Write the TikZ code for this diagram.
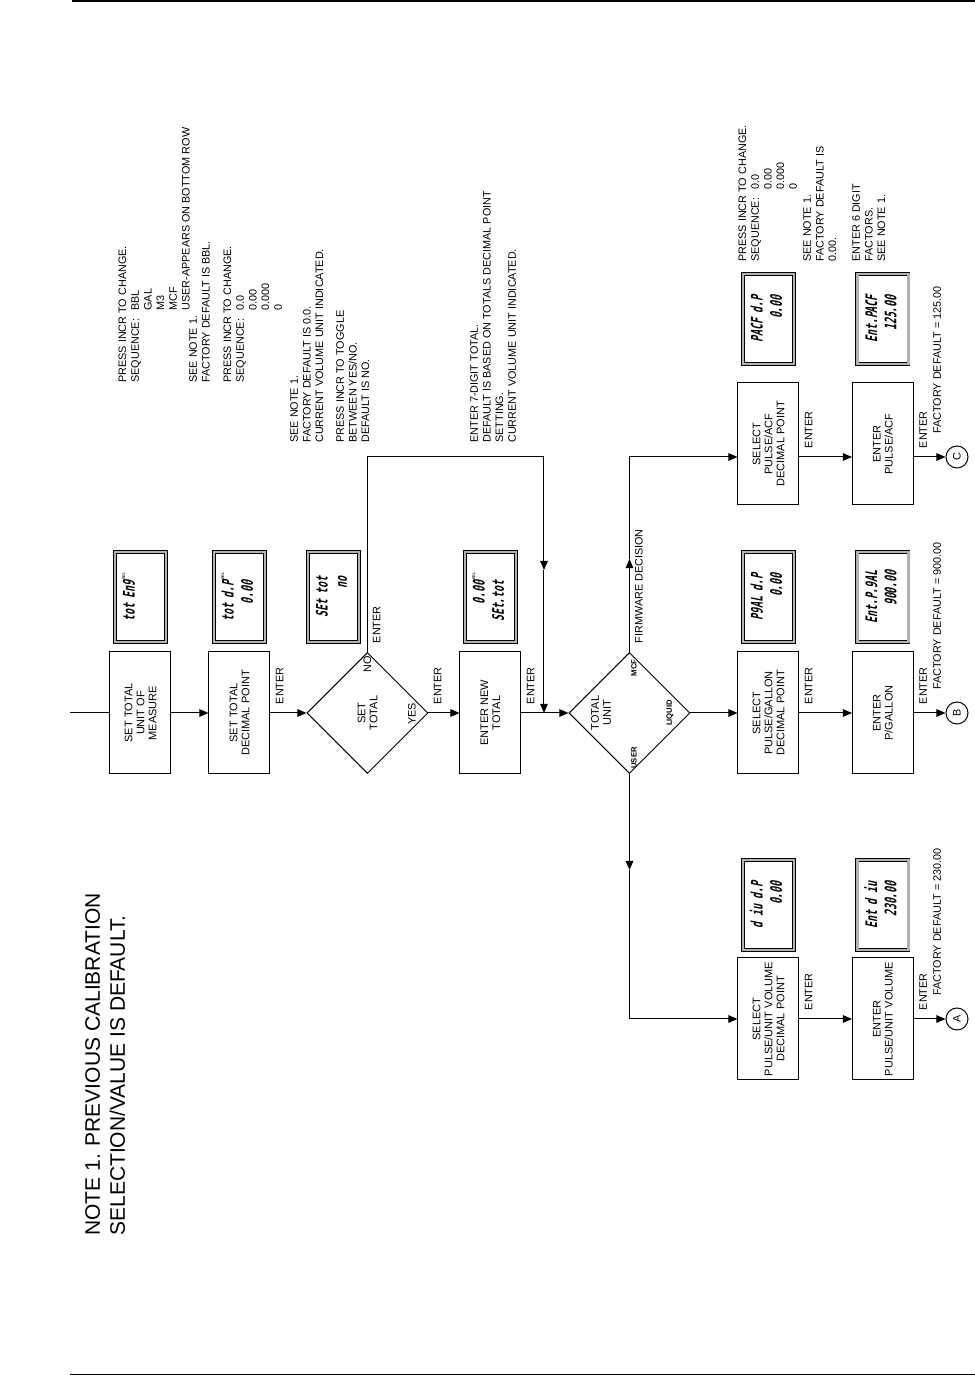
\documentclass[tikz,border=0pt]{standalone}
\usepackage{fontspec}
\setmainfont{Liberation Sans}
\newfontfamily\lcdfont{DejaVu Sans Mono}[FakeStretch=0.62,FakeSlant=0.2]
\usetikzlibrary{shapes.geometric,arrows.meta}

\newcommand{\bblunit}{\raisebox{1.1ex}{\rmfamily\mdseries\fontsize{2.4}{2.4}\selectfont\,BBL}}
\newcommand{\lcd}[2]{\begin{tabular}{@{}l@{}}#1\\#2\end{tabular}}

\begin{document}
\begin{tikzpicture}[x=0.6pt, y=0.6pt, rotate=90, transform shape,
    node distance=69.6pt,
    >={Triangle[length=5.5pt, width=4.6pt]},
    every node/.style={font=\fontsize{6.5}{7.6}\selectfont},
    box/.style={draw, rectangle, line width=0.6pt, minimum width=73.2pt,
      minimum height=36.6pt, inner sep=1pt, align=center,
      font=\fontsize{6.6}{7.2}\selectfont},
    decision/.style={draw, diamond, line width=0.6pt, minimum width=72.6pt,
      minimum height=72.6pt, inner sep=0pt, align=center,
      font=\fontsize{6.6}{7.2}\selectfont},
    display/.style={draw, double=black!30, double distance=1.4pt,
      line width=0.45pt, minimum width=54.1pt, minimum height=30.7pt,
      inner sep=0pt, font=\lcdfont\bfseries\fontsize{9.5}{11.5}\selectfont},
    connector/.style={draw, circle, line width=0.6pt, minimum size=13.2pt,
      inner sep=0pt},
    line/.style={draw, line width=0.6pt},
    flow/.style={line, ->},
    enter/.style={anchor=north west, inner xsep=5pt, inner ysep=3pt},
    note/.style={anchor=north west, inner sep=0pt, align=left},
    branch/.style={inner sep=0pt, font=\bfseries\fontsize{4.6}{5}\selectfont}]

    \useasboundingbox (0,0) rectangle (1375,975);

    % Page rules
    \draw[line width=1.8pt] (1374,903) -- (1374,0);
    \draw[line width=0.6pt] (1,905) -- (1,0);

    % Note
    \node[note, font=\fontsize{12.6}{15}\selectfont] (notehead) at (139,890)
      {NOTE 1. PREVIOUS CALIBRATION\\SELECTION/VALUE IS DEFAULT.};

    % Main line
    \node[box] (setunit) at (662,834.5) {SET TOTAL\\UNIT OF\\MEASURE};
    \node[box] (setdp) at (662,735.5) {SET TOTAL\\DECIMAL POINT};
    \node[decision] (settot) at (662,607.5) {SET\\TOTAL};
    \node[box] (newtot) at (662,484.5) {ENTER NEW\\TOTAL};
    \node[decision] (unit) at (662,345.5) {};
    \node[align=center, font=\fontsize{6.6}{7.2}\selectfont] (unitlbl) at (662,374) {TOTAL\\UNIT};

    % Branches
    \node[box] (selacf) at (931,206.5) {SELECT\\PULSE/ACF\\DECIMAL POINT};
    \node[box] (entacf) at (931,92) {ENTER\\PULSE/ACF};
    \node[box] (selgal) at (662,206.5) {SELECT\\PULSE/GALLON\\DECIMAL POINT};
    \node[box] (entgal) at (662,92) {ENTER\\P/GALLON};
    \node[box] (seluv) at (356,206.5) {SELECT\\PULSE/UNIT VOLUME\\DECIMAL POINT};
    \node[box] (entuv) at (356,92) {ENTER\\PULSE/UNIT VOLUME};
    \node[connector] (ptc) at (918,18) {C};
    \node[connector] (ptb) at (662,18) {B};
    \node[connector] (pta) at (356,18) {A};

    % Displays
    \node[display, right of=setunit] (dunit) {\lcd{tot En9\bblunit}{\mbox{}}};
    \node[display, right of=setdp] (ddp) {\lcd{tot d.P\bblunit}{\hfill 0.00\phantom{\bblunit}}};
    \node[display] (dtog) at (778,641.5) {\lcd{SEt tot}{\hfill no}};
    \node[display, right of=newtot] (dnew) {\lcd{\hfill 0.00\bblunit}{SEt.tot\phantom{\bblunit}}};
    \node[display, right of=selacf, node distance=75pt] (dacf) {\lcd{PACF d.P}{\hfill 0.00}};
    \node[display, right of=entacf, node distance=75pt] (dentacf) {\lcd{Ent.PACF}{\hfill 125.00}};
    \node[display, right of=selgal] (dgal) {\lcd{P9AL d.P}{\hfill 0.00}};
    \node[display, right of=entgal] (dentgal) {\lcd{Ent.P.9AL}{\hfill 900.00}};
    \node[display, right of=seluv, node distance=68.4pt] (duv) {\lcd{d iu d.P}{\hfill 0.00}};
    \node[display, right of=entuv, node distance=68.4pt] (dentuv) {\lcd{Ent d iu}{\hfill 230.00}};

    % Notes
    \node[note] (unitnote) at (992,858) {\begin{tabular}{@{}l@{\hspace{5pt}}l@{}}
        \multicolumn{2}{@{}l@{}}{PRESS INCR TO CHANGE.}\\
        SEQUENCE: & BBL\\ & GAL\\ & M3\\ & MCF\\ & USER-APPEARS ON BOTTOM ROW
      \end{tabular}};
    \node[note] (bblnote) at (992,786) {SEE NOTE 1.\\FACTORY DEFAULT IS BBL.};
    \node[note] (dpnote) at (992,753) {\begin{tabular}{@{}l@{\hspace{5pt}}l@{}}
        \multicolumn{2}{@{}l@{}}{PRESS INCR TO CHANGE.}\\
        SEQUENCE: & 0.0\\ & 0.00\\ & 0.000\\ & 0
      \end{tabular}};
    \node[note] (totnote) at (932,685) {SEE NOTE 1.\\FACTORY DEFAULT IS 0.0.\\CURRENT VOLUME UNIT INDICATED.};
    \node[note] (yesnonote) at (932,639) {PRESS INCR TO TOGGLE\\BETWEEN YES/NO.\\DEFAULT IS NO.};
    \node[note] (newnote) at (932,505) {ENTER 7-DIGIT TOTAL.\\DEFAULT IS BASED ON TOTALS DECIMAL POINT\\SETTING.\\CURRENT VOLUME UNIT INDICATED.};
    \node[note] (acfdpnote) at (1113,238) {\begin{tabular}{@{}l@{\hspace{5pt}}l@{}}
        \multicolumn{2}{@{}l@{}}{PRESS INCR TO CHANGE.}\\
        SEQUENCE: & 0.0\\ & 0.00\\ & 0.000\\ & 0
      \end{tabular}};
    \node[note] (acfnote) at (1113,172) {SEE NOTE 1.\\FACTORY DEFAULT IS\\0.00.};
    \node[note] (factnote) at (1113,123) {ENTER 6 DIGIT\\FACTORS.\\SEE NOTE 1.};
    \node[note] (acfdef) at (941,42) {FACTORY DEFAULT = 125.00};
    \node[note] (galdef) at (685,42) {FACTORY DEFAULT = 900.00};
    \node[note] (uvdef) at (379,42) {FACTORY DEFAULT = 230.00};

    % Branch labels
    \node[inner sep=0pt] at (711,607.5) {NO};
    \node[inner sep=0pt] at (661,563) {YES};
    \node[branch] at (707,341) {MCF};
    \node[branch] at (662,305) {LIQUID};
    \node[branch] at (617,341) {USER};

    % Arrows
    \coordinate (start) at (662,905);
    \coordinate (rail) at (918,0);
    \coordinate (merge) at (662,431);
    \coordinate (noarrow) at (805,431);
    \coordinate (fwarrow) at (816,345.5);
    \coordinate (userarrow) at (505,345.5);

    \draw[line] (start) -- (setunit);
    \draw[flow] (setunit) -- (setdp);
    \draw[flow] (setdp) -- node[enter, pos=0] {ENTER} (settot);
    \draw[flow] (settot) -- node[enter, pos=0] {ENTER} (newtot);
    \draw[flow] (newtot) -- node[enter, pos=0] {ENTER} (unit);
    \draw[flow] (settot.east) -- node[enter, pos=0] {ENTER} (settot.east -| rail)
      -- (rail |- merge) -- (noarrow);
    \draw[flow] (noarrow) -- (merge);
    \draw[flow] (unit.east) -- node[enter, pos=0] {FIRMWARE DECISION} (fwarrow);
    \draw[flow] (fwarrow) -- (unit.east -| rail) -- (rail |- selacf.north);
    \draw[flow] (unit) -- (selgal);
    \draw[flow] (unit.west) -- (userarrow);
    \draw[flow] (userarrow) -- (unit.west -| seluv) -- (seluv);

    \draw[flow] (selacf.south -| rail) -- node[enter, pos=0] {ENTER} (entacf.north -| rail);
    \draw[flow] (entacf.south -| rail) -- node[enter, pos=0] {ENTER} (ptc);
    \draw[flow] (selgal) -- node[enter, pos=0] {ENTER} (entgal);
    \draw[flow] (entgal) -- node[enter, pos=0] {ENTER} (ptb);
    \draw[flow] (seluv) -- node[enter, pos=0] {ENTER} (entuv);
    \draw[flow] (entuv) -- node[enter, pos=0] {ENTER} (pta);
\end{tikzpicture}
\end{document}
